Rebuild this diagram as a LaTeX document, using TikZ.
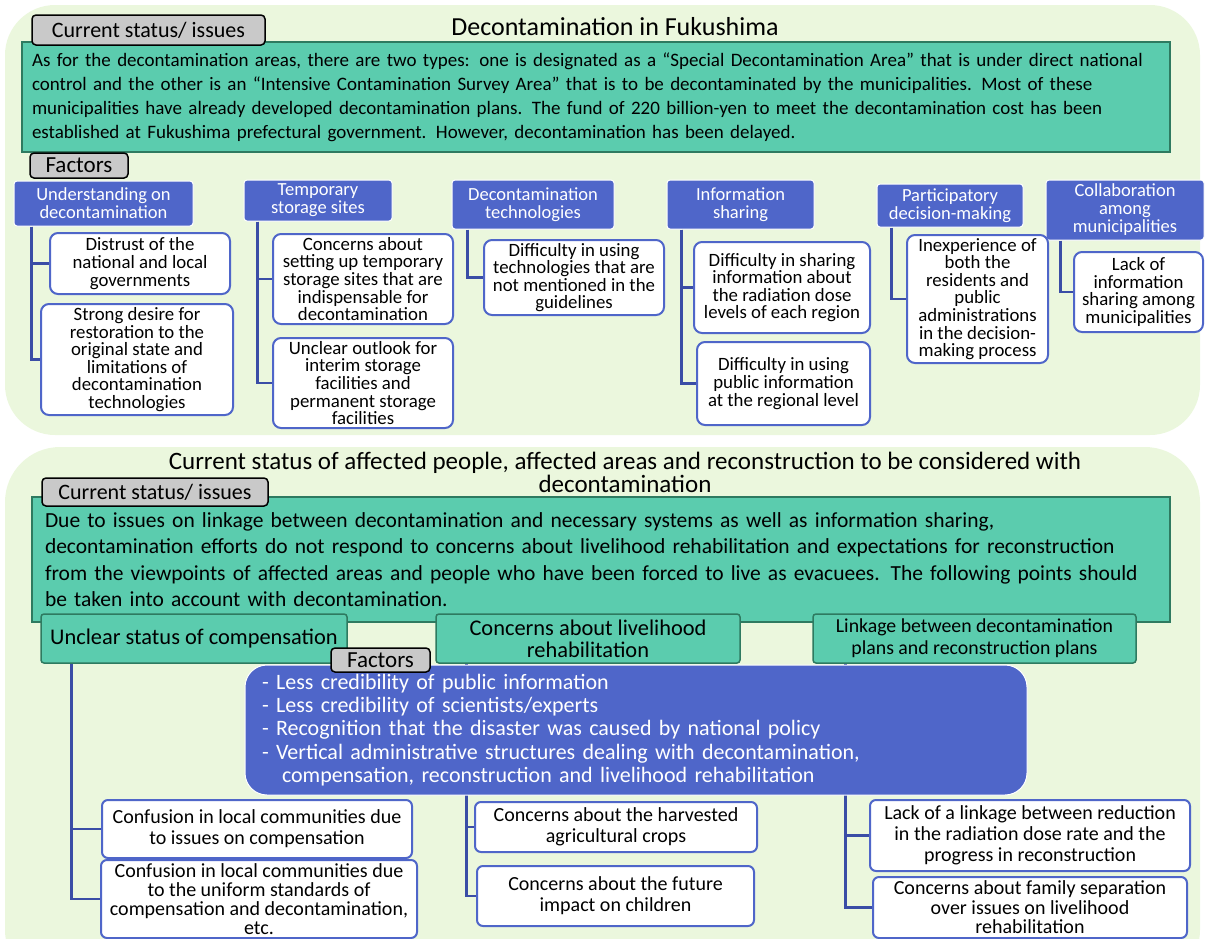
\documentclass[tikz,border=0pt]{standalone}
\usepackage{fontspec}
\setmainfont{Carlito}
\definecolor{panelbg}{HTML}{EBF7DD}
\definecolor{tealf}{HTML}{5BCCAE}
\definecolor{tealdark}{HTML}{2E7A60}
\definecolor{bluef}{HTML}{4F66C9}
\definecolor{blueline}{HTML}{3A4DA6}
\definecolor{tabgray}{HTML}{C9C9C9}
\newcommand{\mkbox}[7]{\node[#1, minimum width={#5-#3}, minimum height={#6-#4}] (#2) at ({(#3+#5)/2},{(#4+#6)/2}) {#7};}
\tikzset{
  panel/.style={fill=panelbg},
  tabbox/.style={draw=black, fill=tabgray, rounded corners=4pt, line width=1.5pt, inner sep=0pt, font=\fontsize{22}{22}\selectfont},
  greenbox/.style={draw=tealdark, fill=tealf, line width=1.5pt, inner sep=0pt},
  greensub/.style={draw=tealdark, fill=tealf, line width=1.5pt, rounded corners=3pt, inner sep=0pt, align=center, font=\fontsize{19.8}{22}\selectfont},
  head/.style={fill=bluef, draw=white, line width=1pt, rounded corners=3pt, text=white, inner sep=0pt, align=center, font=\fontsize{18.5}{18}\selectfont},
  child/.style={fill=white, draw=bluef, line width=2pt, rounded corners=8pt, inner sep=0pt, align=center, font=\fontsize{18.8}{17.6}\selectfont},
  childb/.style={fill=white, draw=bluef, line width=2pt, rounded corners=6pt, inner sep=0pt, align=center, font=\fontsize{20}{21}\selectfont},
  factorsbox/.style={fill=bluef, draw=white, line width=1pt, rounded corners=22pt, text=white, inner sep=0pt, align=left, font=\fontsize{22}{23.3}\selectfont},
  link/.style={draw=blueline, line width=2.5pt},
  titletext/.style={inner sep=0pt, align=center, font=\fontsize{25}{23}\selectfont}
}
\begin{document}
\begin{tikzpicture}[x=1pt,y=-1pt]
\useasboundingbox (0,0) rectangle (1205,938);
\clip (0,0) rectangle (1205,938);
% panels
\fill[panel, rounded corners=50pt] (5,5) rectangle (1200,435);
\fill[panel, rounded corners=55pt] (5,447) rectangle (1200,985);

% ===== top panel =====
\node[titletext, font=\fontsize{26}{26}\selectfont] (title1) at (615,27) {Decontamination in Fukushima};
\mkbox{greenbox, text width=1128pt, align=left, font=\fontsize{19}{24}\selectfont}{status1}{22}{42}{1170}{152}{As for the decontamination areas, there are two types: one is designated as a “Special Decontamination Area” that is under direct national\\
control and the other is an “Intensive Contamination Survey Area” that is to be decontaminated by the municipalities. Most of these\\
municipalities have already developed decontamination plans. The fund of 220 billion-yen to meet the decontamination cost has been\\
established at Fukushima prefectural government. However, decontamination has been delayed.}
\mkbox{tabbox}{tab1}{32}{15}{265}{45}{Current status/ issues}
\mkbox{tabbox, font=\fontsize{23}{23}\selectfont}{ftab1}{30}{153}{128}{178}{Factors}

% headers
\mkbox{head}{h1}{14}{181}{193}{226}{Understanding on\\decontamination}
\mkbox{head}{h2}{244}{180}{392}{221}{Temporary\\storage sites}
\mkbox{head}{h3}{452}{180}{614}{229}{Decontamination\\technologies}
\mkbox{head}{h4}{667}{180}{814}{229}{Information\\sharing}
\mkbox{head}{h5}{877}{184}{1023}{227}{Participatory\\decision-making}
\mkbox{head}{h6}{1046}{180}{1204}{240}{Collaboration\\among\\municipalities}

% children
\mkbox{child}{c1a}{50}{233}{230}{294}{Distrust of the\\national and local\\governments}
\mkbox{child}{c1b}{41}{304}{233}{415}{Strong desire for\\restoration to the\\original state and\\limitations of\\decontamination\\technologies}
\mkbox{child}{c2a}{273}{234}{453}{324}{Concerns about\\setting up temporary\\storage sites that are\\indispensable for\\decontamination}
\mkbox{child}{c2b}{273}{338}{453}{428}{Unclear outlook for\\interim storage\\facilities and\\permanent storage\\facilities}
\mkbox{child}{c3a}{484}{240}{664}{315}{Difficulty in using\\technologies that are\\not mentioned in the\\guidelines}
\mkbox{child}{c4a}{694}{242}{870}{333}{Difficulty in sharing\\information about\\the radiation dose\\levels of each region}
\mkbox{child}{c4b}{697}{342}{870}{425}{Difficulty in using\\public information\\at the regional level}
\mkbox{child}{c5a}{907}{235}{1048}{363}{Inexperience of\\both the\\residents and\\public\\administrations\\in the decision-\\making process}
\mkbox{child}{c6a}{1074}{252}{1203}{332}{Lack of\\information\\sharing among\\municipalities}

% connectors top
\draw[link] ([xshift=18pt]h1.south west) |- (c1b.west);
\draw[link] ([xshift=18pt]h1.south west) |- (c1a.west);
\draw[link] ([xshift=14pt]h2.south west) |- (c2b.west);
\draw[link] ([xshift=14pt]h2.south west) |- (c2a.west);
\draw[link] ([xshift=16pt]h3.south west) |- (c3a.west);
\draw[link] ([xshift=15pt]h4.south west) |- (c4b.west);
\draw[link] ([xshift=15pt]h4.south west) |- (c4a.west);
\draw[link] ([xshift=15pt]h5.south west) |- (c5a.west);
\draw[link] ([xshift=15pt]h6.south west) |- (c6a.west);

% ===== bottom panel =====
\node[titletext] (title2) at (625,472) {Current status of affected people, affected areas and reconstruction to be considered with\\decontamination};
\mkbox{greenbox, text width=1112pt, align=left, font=\fontsize{21.5}{26.5}\selectfont}{status2}{32}{497}{1170}{622}{Due to issues on linkage between decontamination and necessary systems as well as information sharing,\\
decontamination efforts do not respond to concerns about livelihood rehabilitation and expectations for reconstruction\\
from the viewpoints of affected areas and people who have been forced to live as evacuees. The following points should\\
be taken into account with decontamination.}
\mkbox{tabbox}{tab2}{42}{478}{268}{506}{Current status/ issues}

\mkbox{greensub, font=\fontsize{22.4}{22}\selectfont}{s1}{41}{614}{347}{663}{Unclear status of compensation}
\mkbox{greensub, font=\fontsize{22.4}{22}\selectfont}{s2}{436}{614}{740}{663}{Concerns about livelihood\\rehabilitation}
\mkbox{greensub}{s3}{813}{614}{1136}{663}{Linkage between decontamination\\plans and reconstruction plans}

% bottom children
\mkbox{childb}{l1}{102}{800}{412}{858}{Confusion in local communities due\\to issues on compensation}
\mkbox{childb, font=\fontsize{20}{19}\selectfont}{l2}{101}{860}{417}{938}{Confusion in local communities due\\to the uniform standards of\\compensation and decontamination,\\etc.}
\mkbox{childb}{m1}{475}{802}{757}{852}{Concerns about the harvested\\agricultural crops}
\mkbox{childb}{m2}{477}{866}{754}{926}{Concerns about the future\\impact on children}
\mkbox{childb}{r1}{870}{800}{1190}{871}{Lack of a linkage between reduction\\in the radiation dose rate and the\\progress in reconstruction}
\mkbox{childb, font=\fontsize{20}{19.5}\selectfont}{r2}{873}{877}{1187}{938}{Concerns about family separation\\over issues on livelihood\\rehabilitation}

% connectors bottom
\draw[link] ([xshift=31pt]s1.south west) |- (l2.west);
\draw[link] ([xshift=31pt]s1.south west) |- (l1.west);
\draw[link] ([xshift=31pt]s2.south west) |- (m2.west);
\draw[link] ([xshift=31pt]s2.south west) |- (m1.west);
\draw[link] ([xshift=33pt]s3.south west) |- (r2.west);
\draw[link] ([xshift=33pt]s3.south west) |- (r1.west);

% factors box
\mkbox{factorsbox, text width=748pt}{fbox}{245}{665}{1027}{795}{- Less credibility of public information\\
- Less credibility of scientists/experts\\
- Recognition that the disaster was caused by national policy\\
- Vertical administrative structures dealing with decontamination,\\
\hspace*{20pt}compensation, reconstruction and livelihood rehabilitation}
\mkbox{tabbox, font=\fontsize{23}{23}\selectfont}{ftab2}{331}{648}{430}{672}{Factors}
\end{tikzpicture}
\end{document}
